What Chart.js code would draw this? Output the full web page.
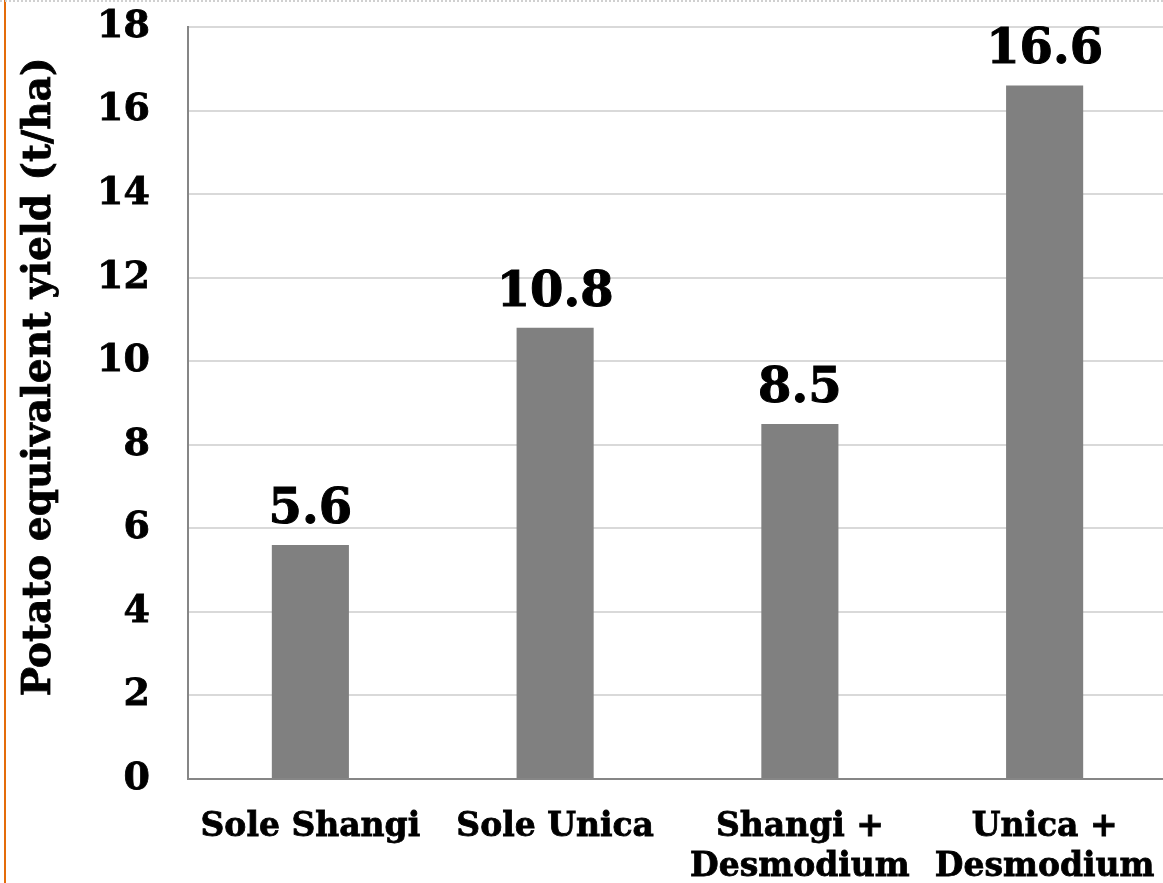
<!DOCTYPE html>
<html>
<head>
<meta charset="utf-8">
<script src="https://cdn.jsdelivr.net/npm/chart.js@4/dist/chart.umd.min.js"></script>
<style>
  html, body { margin: 0; padding: 0; background: #ffffff; overflow: hidden; }
  #frame { position: relative; width: 1163px; height: 883px; overflow: hidden; }
  #edge { position: absolute; left: 4px; top: 0; width: 2px; height: 883px; background: #e46c0a; z-index: 2; }
  #topline { position: absolute; left: 0; top: 0; width: 1163px; height: 0; border-top: 2px dotted #d0d0d0; z-index: 2; }
  #chart { position: absolute; left: 0; top: 0; }
</style>
</head>
<body>
<div id="frame">
  <canvas id="chart" width="1167" height="883"></canvas>
  <div id="edge"></div>
  <div id="topline"></div>
</div>
<script>
// Treatments and potato equivalent yield (t/ha)
const categories = [
  ['Sole Shangi'],
  ['Sole Unica'],
  ['Shangi +', 'Desmodium'],
  ['Unica +', 'Desmodium']
];
const yieldValues = [5.6, 10.8, 8.5, 16.6];
const yTicks = [0, 2, 4, 6, 8, 10, 12, 14, 16, 18];
const yTitle = 'Potato equivalent yield (t/ha)';

const FONT = "'DejaVu Serif', 'Liberation Serif', serif";

// Value labels written above each bar
const valueLabels = {
  id: 'valueLabels',
  afterDatasetsDraw(chart) {
    const ctx = chart.ctx;
    const meta = chart.getDatasetMeta(0);
    ctx.save();
    ctx.font = `bold 48px ${FONT}`;
    ctx.fillStyle = '#000000';
    ctx.strokeStyle = '#000000';
    ctx.lineWidth = 1;
    ctx.textAlign = 'center';
    ctx.textBaseline = 'alphabetic';
    meta.data.forEach((bar, i) => {
      const txt = yieldValues[i].toFixed(1);
      ctx.fillText(txt, bar.x, bar.y - 22);
      ctx.strokeText(txt, bar.x, bar.y - 22);
    });
    ctx.restore();
  }
};

// Vertical axis title, rotated along the left edge
const axisTitle = {
  id: 'axisTitle',
  afterDraw(chart) {
    const ctx = chart.ctx;
    ctx.save();
    ctx.translate(50, 377);
    ctx.rotate(-Math.PI / 2);
    ctx.font = `bold 39px ${FONT}`;
    ctx.fillStyle = '#000000';
    ctx.strokeStyle = '#000000';
    ctx.lineWidth = 0.8;
    ctx.textAlign = 'center';
    ctx.textBaseline = 'alphabetic';
    ctx.fillText(yTitle, 0, 0);
    ctx.strokeText(yTitle, 0, 0);
    ctx.restore();
  }
};

// Keep the plot area fixed: no extra room reserved around tick labels
function noLabelPadding(scale) {
  scale.paddingTop = 0;
  scale.paddingBottom = 0;
  scale.paddingLeft = 0;
  scale.paddingRight = 0;
}

new Chart(document.getElementById('chart'), {
  type: 'bar',
  data: {
    labels: categories,
    datasets: [{
      data: yieldValues,
      backgroundColor: '#808080',
      borderWidth: 0,
      barPercentage: 0.315,
      categoryPercentage: 1.0
    }]
  },
  options: {
    responsive: false,
    animation: false,
    layout: { padding: { top: 27, right: 0, bottom: 0, left: 0 } },
    plugins: {
      legend: { display: false },
      tooltip: { enabled: false }
    },
    scales: {
      x: {
        grid: { display: false, drawTicks: false },
        border: { display: true, color: '#868686', width: 2 },
        ticks: {
          color: '#000000',
          font: { family: FONT, size: 33, weight: 'bold', lineHeight: 1.2 },
          textStrokeColor: '#000000',
          textStrokeWidth: 0.8,
          padding: 29,
          maxRotation: 0,
          autoSkip: false
        },
        afterFit(scale) { scale.height = 104; noLabelPadding(scale); }
      },
      y: {
        min: 0,
        max: 18,
        afterBuildTicks(scale) { scale.ticks = yTicks.map(v => ({ value: v })); },
        grid: { color: '#d9d9d9', lineWidth: 2, drawTicks: false },
        border: { display: true, color: '#868686', width: 2 },
        ticks: {
          color: '#000000',
          font: { family: FONT, size: 38, weight: 'bold' },
          textStrokeColor: '#000000',
          textStrokeWidth: 0.8,
          padding: 38
        },
        afterFit(scale) { scale.width = 188; noLabelPadding(scale); }
      }
    }
  },
  plugins: [valueLabels, axisTitle]
});
</script>
</body>
</html>
